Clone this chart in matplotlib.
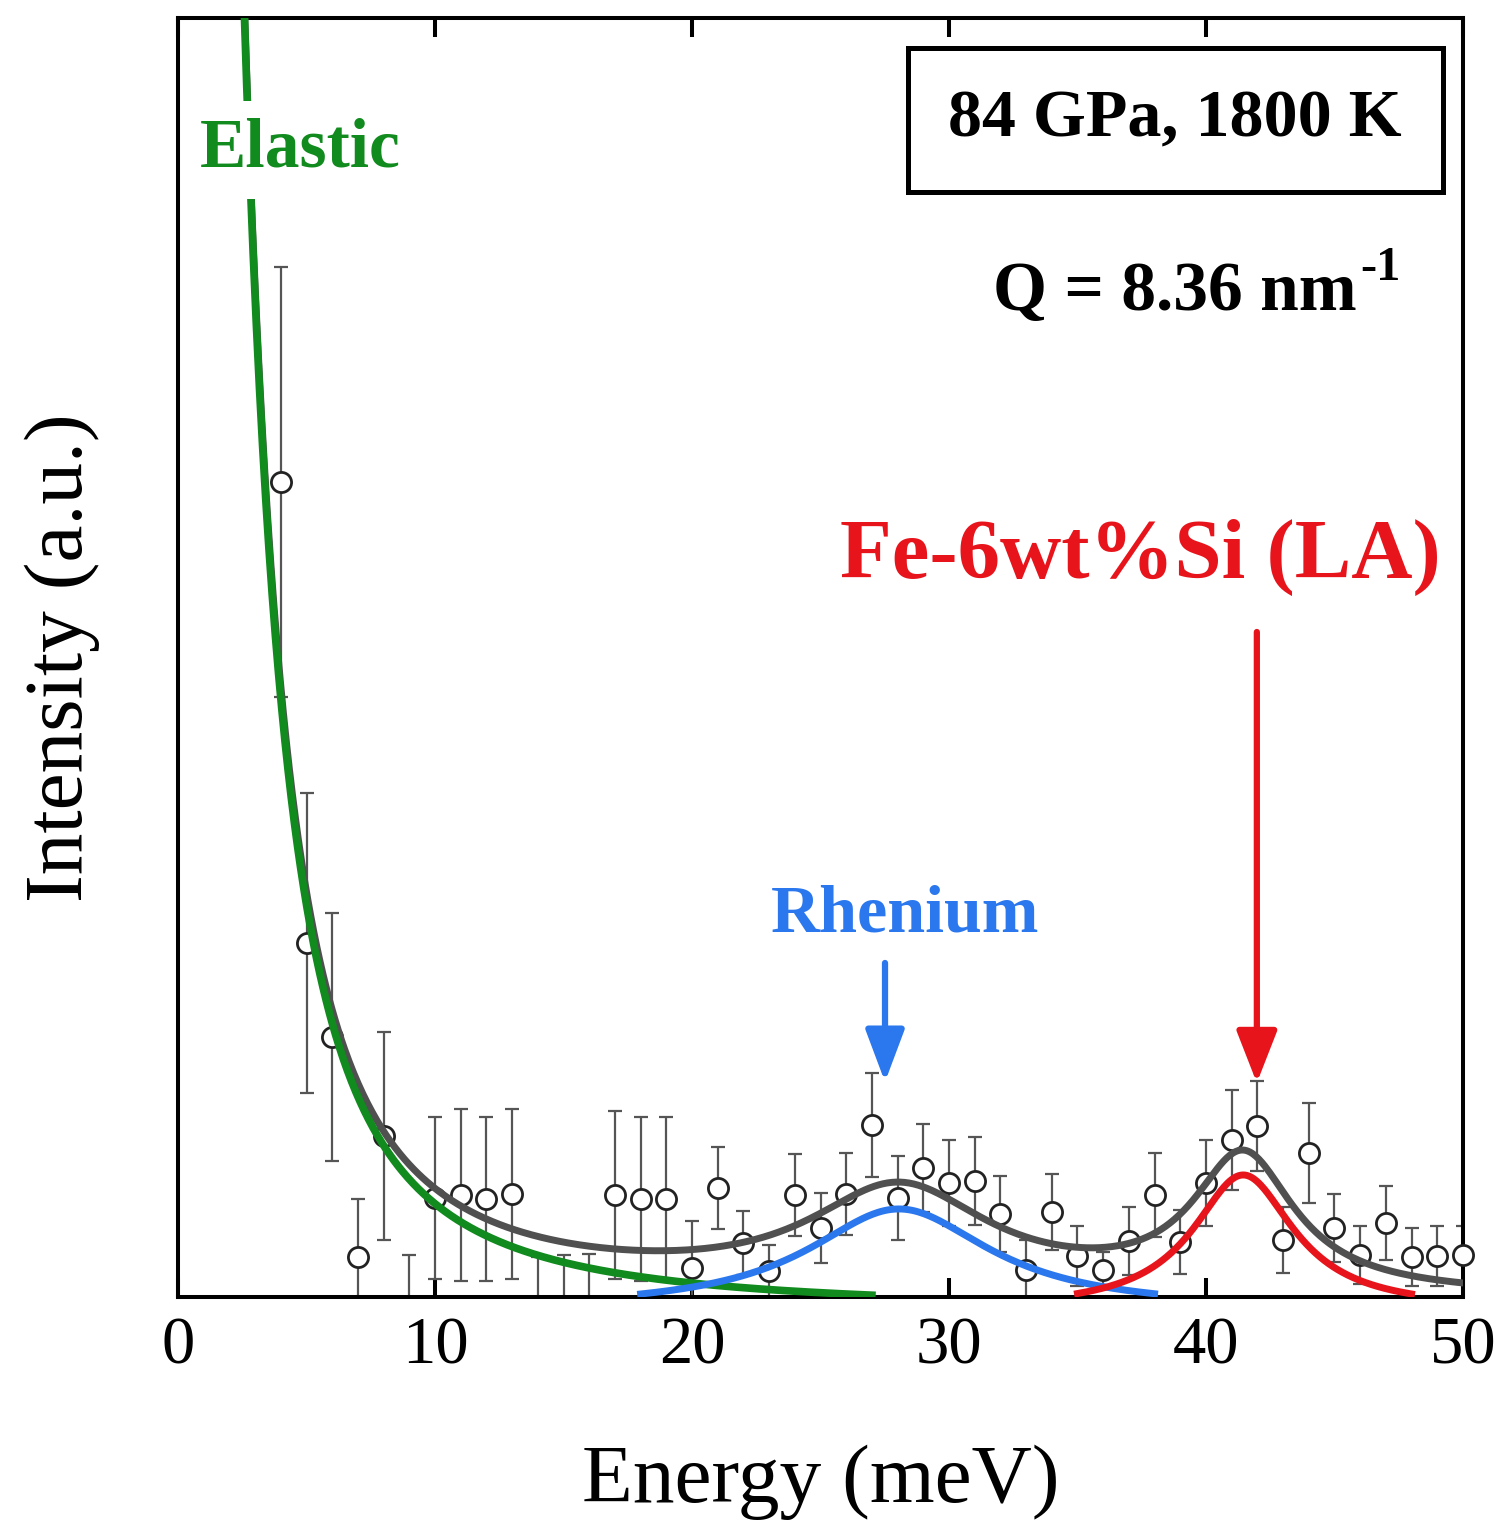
import numpy as np
import matplotlib
matplotlib.use("Agg")
import matplotlib.pyplot as plt
from matplotlib.patches import Rectangle

plt.rcParams['font.family'] = ['Liberation Serif', 'DejaVu Serif']

# --- measured spectrum (arbitrary units) ---
energy = np.arange(4, 51)
intensity = np.array([828, 367, 273, 53, 174, -5, 112, 115, 111, 116,
                      -22, -20, -19, 115, 111, 111, 42, 122, 67, 39,
                      115, 82, 116, 185, 112, 142, 127, 129, 96, 40,
                      98, 54, 40, 69, 115, 68, 127, 170, 184, 70,
                      157, 82, 55, 87, 53, 54, 55])
error = np.array([215, 150, 124, 58, 104, 60, 81, 86, 82, 85,
                  75, 75, 75, 84, 82, 82, 47, 41, 32, 26,
                  41, 35, 41, 52, 42, 44, 43, 44, 38, 30,
                  38, 30, 18, 34, 42, 32, 43, 50, 45, 33,
                  50, 34, 29, 37, 29, 30, 29])

# --- fit components (Lorentzians + flat background) ---
elastic_area = 10800.0
elastic_gamma = 1.3
re_center, re_height, re_hwhm = 28.05, 101.0, 4.35
fe_center, fe_height, fe_hwhm = 41.45, 135.0, 2.4
background = 9.0

ylim = (13, 1292)


def lorentz(e, c, h, w):
    return h / (1 + ((e - c) / w) ** 2)


def elastic(e):
    return elastic_area / (e ** 2 + elastic_gamma ** 2)


e_all = np.linspace(2.3, 50, 800)
e_el = np.linspace(2.3, 27, 600)
e_re = np.linspace(18, 38, 300)
e_fe = np.linspace(35, 48, 300)
total = elastic(e_all) + lorentz(e_all, re_center, re_height, re_hwhm) \
    + lorentz(e_all, fe_center, fe_height, fe_hwhm) + background

fig = plt.figure(figsize=(15.04, 15.26), dpi=100)
ax = fig.add_axes([0.1184, 0.1501, 0.8543, 0.8381])

ax.errorbar(energy, intensity, yerr=error, fmt='none', ecolor='#555555',
            elinewidth=1.6, capsize=5, capthick=1.6, zorder=2)
vis = (intensity > ylim[0]) & (intensity < ylim[1])
ax.plot(energy[vis], intensity[vis], 'o', ms=14.5, mfc='white', mec='#222222',
        mew=2.0, zorder=3, clip_on=False)

ax.plot(e_all, total, color='#505050', lw=5, zorder=4)
ax.plot(e_el, elastic(e_el), color='#118a1e', lw=5.5, zorder=5)
ax.plot(e_re, lorentz(e_re, re_center, re_height, re_hwhm), color='#2a77ee', lw=5, zorder=5)
ax.plot(e_fe, lorentz(e_fe, fe_center, fe_height, fe_hwhm), color='#e8141c', lw=5, zorder=5)

ax.set_xlim(0, 50)
ax.set_ylim(*ylim)
ax.set_xticks([0, 10, 20, 30, 40, 50])
ax.set_yticks([])
ax.tick_params(axis='x', direction='in', length=14, width=2.9, top=True,
               labelsize=48, pad=14)
for s in ax.spines.values():
    s.set_linewidth(2.9)

ax.set_xlabel('Energy (meV)', fontsize=60, labelpad=48)
ax.set_ylabel('Intensity (a.u.)', fontsize=60, labelpad=56)

# annotations
ax.text(0.0949, 0.8968, 'Elastic', transform=ax.transAxes, color='#118a1e',
        fontsize=50, fontweight='bold', ha='center', va='center', zorder=6,
        bbox=dict(facecolor='white', edgecolor='none', pad=12))
ax.text(0.5658, 0.2987, 'Rhenium', transform=ax.transAxes, color='#2a77ee',
        fontsize=49, fontweight='bold', ha='center', va='center', zorder=6)
ax.text(0.7486, 0.5780, 'Fe-6wt%Si (LA)', transform=ax.transAxes, color='#e8141c',
        fontsize=61, fontweight='bold', ha='center', va='center', zorder=6)

ax.add_patch(Rectangle((0.5681, 0.8640), 0.4163, 0.1125, transform=ax.transAxes,
                       fill=False, lw=3.6, edgecolor='black', zorder=6))
ax.text(0.7759, 0.9203, '84 GPa, 1800 K', transform=ax.transAxes,
        fontsize=49, fontweight='bold', ha='center', va='center', zorder=7)
# Q value with a plain hyphen superscript
ax.text((1357 - 178) / 1285, (1297 - 310) / 1279, 'Q = 8.36 nm', transform=ax.transAxes,
        fontsize=50, fontweight='bold', ha='right', va='baseline', zorder=7)
ax.text((1360 - 178) / 1285, (1297 - 280) / 1279, '-1', transform=ax.transAxes,
        fontsize=35, fontweight='bold', ha='left', va='baseline', zorder=7)

ax.annotate('', xy=(27.51, 228), xytext=(27.51, 347),
            arrowprops=dict(arrowstyle='-|>,head_length=3.2,head_width=1.2',
                            color='#2a77ee', lw=4.5, mutation_scale=10,
                            shrinkA=0, shrinkB=0), zorder=6)
ax.annotate('', xy=(41.98, 227), xytext=(41.98, 678),
            arrowprops=dict(arrowstyle='-|>,head_length=3.2,head_width=1.25',
                            color='#e8141c', lw=4.5, mutation_scale=10,
                            shrinkA=0, shrinkB=0), zorder=6)

fig.savefig('out.png', dpi=100, facecolor='white')
